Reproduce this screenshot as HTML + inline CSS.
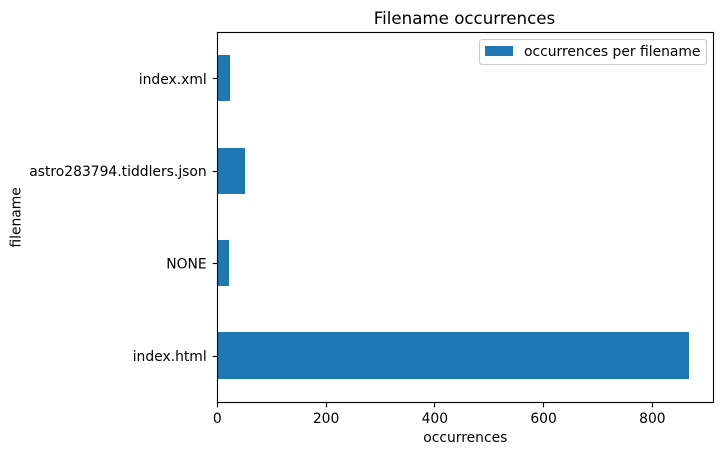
<!DOCTYPE html>
<html>
<head>
<meta charset="utf-8">
<title>Filename occurrences</title>
<style>
html,body{margin:0;padding:0;background:#fff;width:722px;height:455px;overflow:hidden}
svg{display:block}
text{font-family:"DejaVu Sans",sans-serif;fill:#000;font-size:13.89px}
</style>
</head>
<body>
<svg id="chart" width="722" height="455" viewBox="0 0 722 455" xmlns="http://www.w3.org/2000/svg">
  <rect x="0" y="0" width="722" height="455" fill="#fff"/>
  <g id="bars" shape-rendering="crispEdges"></g>
  <g id="xticks"></g>
  <g id="yticks"></g>
  <rect x="217.5" y="32.5" width="496" height="370" fill="none" stroke="#000" stroke-width="1.11"/>
  <text x="464.5" y="24" text-anchor="middle" style="font-size:16.67px">Filename occurrences</text>
  <text x="465.3" y="442" text-anchor="middle">occurrences</text>
  <text x="20.5" y="217.4" text-anchor="middle" transform="rotate(-90 20.5 217.4)">filename</text>
  <g>
    <rect x="479.5" y="39.5" width="227" height="25" rx="2.8" fill="#fff" fill-opacity="0.8" stroke="#ccc" stroke-width="1.11"/>
    <rect x="485" y="46" width="28" height="10" fill="#1f77b4" shape-rendering="crispEdges"/>
    <text x="524" y="56">occurrences per filename</text>
  </g>
</svg>
<script>
var categories = ["index.html", "NONE", "astro283794.tiddlers.json", "index.xml"];
var occurrences = [868, 22, 51, 24];
var xTickValues = [0, 200, 400, 600, 800];
var xMax = 912;

var NS = "http://www.w3.org/2000/svg";
var plotLeft = 217.3, plotRight = 713.3, plotTop = 32.2, plotBottom = 401.75;

function xScale(v) {
  return plotLeft + (v / xMax) * (plotRight - plotLeft);
}
function yScale(i) {
  var lo = -0.5, hi = categories.length - 0.5;
  return plotBottom - ((i - lo) / (hi - lo)) * (plotBottom - plotTop);
}
function make(tag) {
  return document.createElementNS(NS, tag);
}

var barsGroup = document.getElementById("bars");
var xGroup = document.getElementById("xticks");
var yGroup = document.getElementById("yticks");
var barHeight = 0.5 * (yScale(0) - yScale(1));

categories.forEach(function (cat, i) {
  var barTop = Math.round(yScale(i) - barHeight / 2);
  var barBottom = Math.round(yScale(i) + barHeight / 2);
  var barLeft = Math.round(xScale(0));
  var barRight = Math.round(xScale(occurrences[i]));

  var bar = make("rect");
  
  
  bar.setAttribute("x", barLeft);
  bar.setAttribute("y", barTop);
  bar.setAttribute("width", barRight - barLeft);
  bar.setAttribute("height", barBottom - barTop);
  bar.setAttribute("fill", "#1f77b4");
  barsGroup.appendChild(bar);

  var tickY = Math.round(yScale(i)) + 0.5;
  var tick = make("line");
  
  
  tick.setAttribute("x1", 217.5 - 4.86);
  tick.setAttribute("x2", 217.5);
  tick.setAttribute("y1", tickY);
  tick.setAttribute("y2", tickY);
  tick.setAttribute("stroke", "#000");
  tick.setAttribute("stroke-width", "1.11");
  yGroup.appendChild(tick);

  var label = make("text");
  
  
  label.setAttribute("x", plotLeft - 10.6);
  label.setAttribute("y", yScale(i) + 5.4);
  label.setAttribute("text-anchor", "end");
  label.textContent = cat;
  yGroup.appendChild(label);
});

xTickValues.forEach(function (v) {
  var tickX = Math.floor(xScale(v)) + 0.5;
  var tick = make("line");
  
  
  tick.setAttribute("x1", tickX);
  tick.setAttribute("x2", tickX);
  tick.setAttribute("y1", 402.5);
  tick.setAttribute("y2", 402.5 + 4.86);
  tick.setAttribute("stroke", "#000");
  tick.setAttribute("stroke-width", "1.11");
  xGroup.appendChild(tick);

  var label = make("text");
  
  
  label.setAttribute("x", xScale(v));
  label.setAttribute("y", 423);
  label.setAttribute("text-anchor", "middle");
  label.textContent = String(v);
  xGroup.appendChild(label);
});
</script>
</body>
</html>
